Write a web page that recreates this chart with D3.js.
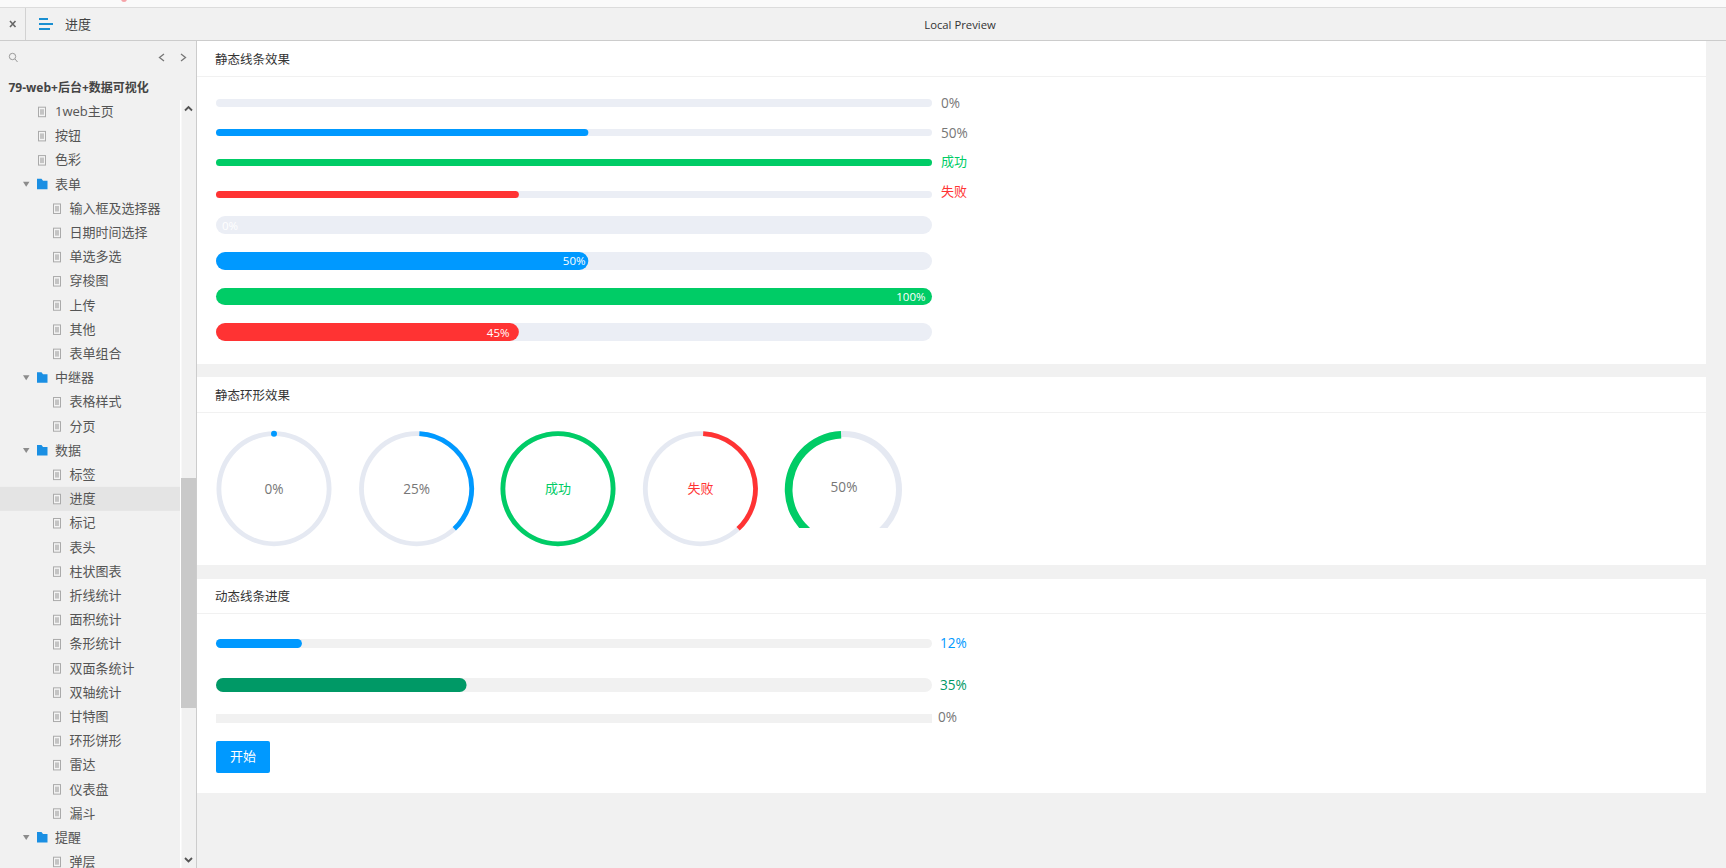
<!DOCTYPE html>
<html lang="zh"><head><meta charset="utf-8">
<script src="https://cdn.jsdelivr.net/npm/d3@7/dist/d3.min.js"></script>
<style>
html,body{margin:0;padding:0;background:#f1f1f1;overflow:hidden}
svg{display:block}
text{font-family:"Open Sans","Noto Sans CJK SC",sans-serif;font-size:13px;dominant-baseline:central}
</style></head><body>
<svg id="c" width="1726" height="868"></svg>
<script>
// ---------- data ----------
const navLabels = ["1web主页","按钮","色彩","表单","输入框及选择器","日期时间选择","单选多选","穿梭图","上传","其他","表单组合","中继器","表格样式","分页","数据","标签","进度","标记","表头","柱状图表","折线统计","面积统计","条形统计","双面条统计","双轴统计","甘特图","环形饼形","雷达","仪表盘","漏斗","提醒","弹层"];
const navFolders = ["表单","中继器","数据","提醒"];
const navTopLevel = ["1web主页","按钮","色彩"];
const navSelected = "进度";

const sectionTitles = ["静态线条效果","静态环形效果","动态线条进度"];

const thinValues = [0,52,100,42.3];
const thinLabels = ["0%","50%","成功","失败"];
const thinKinds = ["blue","blue","green","red"];
const thinLabelKinds = ["muted","muted","green","red"];

const thickValues = [0,52,100,42.3];
const thickLabels = ["0%","50%","100%","45%"];
const thickKinds = ["blue","blue","green","red"];

const ringStarts = [0,0.8,0,0.8,-50.7];
const ringEnds = [0,38,100,38,-0.7];
const ringLabels = ["0%","25%","成功","失败","50%"];
const ringKinds = ["blue","blue","green","red","green"];
const ringLabelKinds = ["muted","muted","green","red","muted"];

const dynValues = [12,35,0];
const dynLabels = ["12%","35%","0%"];
const dynKinds = ["blue","teal","blue"];
const dynLabelKinds = ["blue","teal","muted"];

const buttonLabel = "开始";
const headerTitle = "进度";
const headerCenter = "Local Preview";
const projectTitle = "79-web+后台+数据可视化";

// ---------- styles ----------
const color = {blue:"#0099ff",green:"#00cc66",red:"#ff3333",teal:"#009966",muted:"#777777"};
const fontFor = t => /%/.test(t) ? "13.6px" : "13px";
const svg = d3.select("#c");
const x = d3.scaleLinear().domain([0,100]).range([216,932]);
const navY = d3.scaleLinear().domain([0,31]).range([111.7,861.7]);
const rect=(g,a,b,w,h,f,r=0)=>g.append("rect").attr("x",a).attr("y",b).attr("width",w).attr("height",h).attr("fill",f).attr("rx",r).attr("ry",r);
const label=(g,a,b,t,f,s=13,anchor="start")=>g.append("text").attr("x",a).attr("y",b).attr("fill",f).attr("font-size",s).style("font-size",s+"px").attr("text-anchor",anchor).text(t);

rect(svg,0,0,1726,868,"#f1f1f1");

// ---------- top bar ----------
const top_=svg.append("g");
rect(top_,0,0,1726,7,"#fafafa");
top_.append("circle").attr("cx",124).attr("cy",-1).attr("r",3).attr("fill","#f5a3a8");
rect(top_,0,7,1726,1,"#dcdcdc");
rect(top_,0,40,1726,1,"#cccccc");
rect(top_,25,8,1,32,"#d2d2d2");
top_.append("path").attr("d","M10 21L15.5 27M15.5 21L10 27").attr("stroke","#666").attr("stroke-width",1.6).attr("fill","none");
rect(top_,39,18,9,2,"#1a8fd1");
rect(top_,39,23,14,2,"#1a8fd1");
rect(top_,39,28,11,2,"#1a8fd1");
label(top_,65,24,headerTitle,"#444",13);
label(top_,960,24.5,headerCenter,"#333",11.3,"middle");

// ---------- sidebar ----------
const side=svg.append("g");
rect(side,196,41,1,827,"#cccccc");
side.append("circle").attr("cx",12.5).attr("cy",56.5).attr("r",3.2).attr("fill","none").attr("stroke","#999").attr("stroke-width",1);
side.append("path").attr("d","M15 59L17.5 62").attr("stroke","#999").attr("stroke-width",1);
side.append("path").attr("d","M164 54L159.5 57.5L164 61M181 54L185.5 57.5L181 61").attr("stroke","#777").attr("stroke-width",1.3).attr("fill","none");
label(side,8.5,87.5,projectTitle,"#444",12).attr("font-weight",700);
rect(side,180,100,1.5,768,"#ffffff");
rect(side,181,478,15,230,"#c9c9c9");
side.append("path").attr("d","M185 110.5L188.5 107L192 110.5M185 858L188.5 861.5L192 858").attr("stroke","#555").attr("stroke-width",1.8).attr("fill","none");

const rows=side.selectAll("g.row").data(navLabels).join("g").attr("class","row")
  .attr("transform",(d,i)=>`translate(0,${navY(i)})`);
rows.filter(d=>d===navSelected).append("rect").attr("x",0).attr("y",-12).attr("width",180).attr("height",24).attr("fill","#e4e4e4");
rows.each(function(d){
  const g=d3.select(this);
  const folder=navFolders.includes(d), topL=navTopLevel.includes(d);
  if(folder){
    g.append("path").attr("d","M23 -2.5H29.5L26.2 2.5Z").attr("fill","#8c8c8c");
    g.append("path").attr("d","M37 -5.5H41.5L43 -3.5H47.5V5H37Z").attr("fill","#1a8fe3");
  }else{
    const ix=topL?38:53;
    g.append("rect").attr("x",ix+.5).attr("y",-4.5).attr("width",7).attr("height",9.5).attr("fill","#f4f4f4").attr("stroke","#aaa");
    g.append("rect").attr("x",ix+2).attr("y",-2.5).attr("width",4).attr("height",5.5).attr("fill","#c4c4c4");
  }
  label(g,(folder||topL)?55:69.5,-0.6,d,"#555",13);
});

// ---------- cards ----------
const cards=[[41,364,76],[377,565,412],[579,793,613]];
const titleY=[59,395,596];
cards.forEach((c,i)=>{
  rect(svg,197,c[0],1509,c[1]-c[0],"#ffffff");
  rect(svg,197,c[2],1509,1,"#f1f1f1");
  label(svg,215,titleY[i],sectionTitles[i],"#333",12.5);
});

// ---------- thin bars ----------
const thinY=[99,129,159,191], thinH=[8,7,7,7], thinTextY=[102.5,132.5,161,191];
const thin=svg.append("g");
thin.selectAll("rect.t").data(thinValues).join("rect").attr("class","t")
  .attr("x",x(0)).attr("y",(d,i)=>thinY[i]).attr("height",(d,i)=>thinH[i]).attr("width",x(100)-x(0))
  .attr("rx",(d,i)=>thinH[i]/2).attr("fill","#ebeef5");
thin.selectAll("rect.f").data(thinValues).join("rect").attr("class","f")
  .attr("x",x(0)).attr("y",(d,i)=>thinY[i]).attr("height",(d,i)=>thinH[i]).attr("width",d=>x(d)-x(0))
  .attr("rx",(d,i)=>thinH[i]/2).attr("fill",(d,i)=>color[thinKinds[i]]);
thin.selectAll("text").data(thinLabels).join("text")
  .attr("x",941).attr("y",(d,i)=>thinTextY[i]).attr("fill",(d,i)=>color[thinLabelKinds[i]])
  .style("font-size",fontFor).text(d=>d);

// ---------- thick bars ----------
const thickY=[216,252,288,323], thickH=[18,18,17,18], insideRight=[222,585.5,925.5,509.5], insideY=[225,260,296,332];
const thick=svg.append("g");
thick.selectAll("rect.t").data(thickValues).join("rect").attr("class","t")
  .attr("x",x(0)).attr("y",(d,i)=>thickY[i]).attr("height",(d,i)=>thickH[i]).attr("width",x(100)-x(0))
  .attr("rx",9).attr("fill","#ebeef5");
thick.selectAll("rect.f").data(thickValues).join("rect").attr("class","f")
  .attr("x",x(0)).attr("y",(d,i)=>thickY[i]).attr("height",(d,i)=>thickH[i]).attr("width",d=>x(d)-x(0))
  .attr("rx",9).attr("fill",(d,i)=>color[thickKinds[i]]);
thick.selectAll("text").data(thickLabels).join("text")
  .attr("x",(d,i)=>insideRight[i]).attr("y",(d,i)=>insideY[i])
  .attr("text-anchor",(d,i)=>i===0?"start":"end").attr("fill","#fff")
  .style("font-size","11.5px").text(d=>d);

// ---------- rings ----------
const ringX=[274,416.6,558,700.4,843.5], ringYc=[488.7,488.7,488.7,488.7,489.5];
const ringOuter=[57.5,57.5,57.5,57.5,58.5], trackW=[4.8,4.8,4.8,4.8,6], fillW=[4.8,4.8,4.8,4.8,7.5];
const textX=[274,416.6,558,700.4,844], textY=[488,488,488,488,486.5];
const angle=d3.scaleLinear().domain([0,100]).range([0,2*Math.PI]);
const arc=d3.arc();
svg.append("clipPath").attr("id","gauge").append("rect").attr("x",760).attr("y",420).attr("width",170).attr("height",108);
ringEnds.forEach((v,i)=>{
  const holder=svg.append("g").attr("clip-path",i===4?"url(#gauge)":null);
  const g=holder.append("g").attr("transform",`translate(${ringX[i]},${ringYc[i]})`);
  g.append("path").attr("d",arc({innerRadius:ringOuter[i]-trackW[i],outerRadius:ringOuter[i],startAngle:0,endAngle:2*Math.PI})).attr("fill","#e5e9f2");
  if(ringStarts[i]!==v){
    g.append("path").attr("d",arc({innerRadius:ringOuter[i]-fillW[i],outerRadius:ringOuter[i],startAngle:angle(ringStarts[i]),endAngle:angle(v)})).attr("fill",color[ringKinds[i]]);
  }else{
    g.append("circle").attr("cx",0).attr("cy",-(ringOuter[i]-trackW[i]/2)+0.2).attr("r",3).attr("fill",color[ringKinds[i]]);
  }
  label(svg,textX[i],textY[i],ringLabels[i],color[ringLabelKinds[i]],parseFloat(fontFor(ringLabels[i])),"middle");
});

// ---------- dynamic bars ----------
const dynY=[639,678,714], dynH=[9,14,9], dynTextX=[940,940,938], dynTextY=[642.5,684,716.5], dynR=[4.5,7,0];
const dyn=svg.append("g");
dyn.selectAll("rect.t").data(dynValues).join("rect").attr("class","t")
  .attr("x",x(0)).attr("y",(d,i)=>dynY[i]).attr("height",(d,i)=>dynH[i]).attr("width",x(100)-x(0))
  .attr("rx",(d,i)=>dynR[i]).attr("fill","#f1f1f1");
dyn.selectAll("rect.f").data(dynValues).join("rect").attr("class","f")
  .attr("x",x(0)).attr("y",(d,i)=>dynY[i]).attr("height",(d,i)=>dynH[i]).attr("width",d=>x(d)-x(0))
  .attr("rx",(d,i)=>dynR[i]).attr("fill",(d,i)=>color[dynKinds[i]]);
dyn.selectAll("text").data(dynLabels).join("text")
  .attr("x",(d,i)=>dynTextX[i]).attr("y",(d,i)=>dynTextY[i]).attr("fill",(d,i)=>color[dynLabelKinds[i]])
  .style("font-size",fontFor).text(d=>d);

rect(svg,216,741,54,32,color.blue,2);
label(svg,243,756,buttonLabel,"#fff",13,"middle");
</script>
</body></html>
